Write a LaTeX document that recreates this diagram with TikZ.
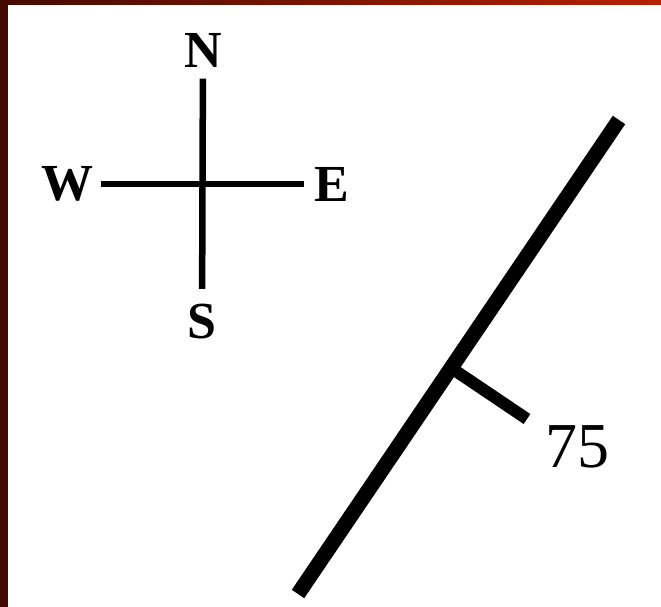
\documentclass[tikz,border=0pt]{standalone}
\usepackage{fontspec}
\setmainfont{Liberation Serif}
\usepackage{tikz}
\usetikzlibrary{calc}
\definecolor{brdDark}{RGB}{68,10,0}
\definecolor{brdRed}{RGB}{182,34,4}
\tikzset{
  dirlabel/.style={inner sep=10pt, font=\fontsize{52}{52}\selectfont\bfseries},
  compassline/.style={line width=6.5pt},
}
\begin{document}
\begin{tikzpicture}[x=1pt, y=-1pt]
    \useasboundingbox (0,0) rectangle (661,607);
    % frame: dark strip on the left, shaded strip on top
    \fill[brdDark] (0,0) rectangle (8,607);
    \shade[left color=brdDark, right color=brdRed] (0,0) rectangle (661,5);

    % Compass rose with the four directions
    \node[dirlabel] (N) at (203,50) {N};
    \node[dirlabel] (S) at (202,322) {S};
    \node[dirlabel] (W) at (67,184) {W};
    \node[dirlabel] (E) at (332,184) {E};
    \draw[compassline, shorten <=1.5pt, shorten >=5.5pt] (N) -- (S);
    \draw[compassline, shorten <=-2pt] (W) -- (E);

    % Strike line, with the dip tick on its right side
    \coordinate (strikeLo) at (298,594);
    \coordinate (strikeHi) at (619,120);
    \draw[line width=15pt] (strikeLo) -- (strikeHi);
    \coordinate (dipFoot) at ($(strikeLo)!0.477!(strikeHi)$);
    \coordinate (dipEnd) at (527,419);
    \draw[line width=12pt] (dipFoot) -- (dipEnd);
    \node[font=\fontsize{64}{64}\selectfont, inner sep=0pt] (dip) at (577,447) {75};
  \end{tikzpicture}
\end{document}
